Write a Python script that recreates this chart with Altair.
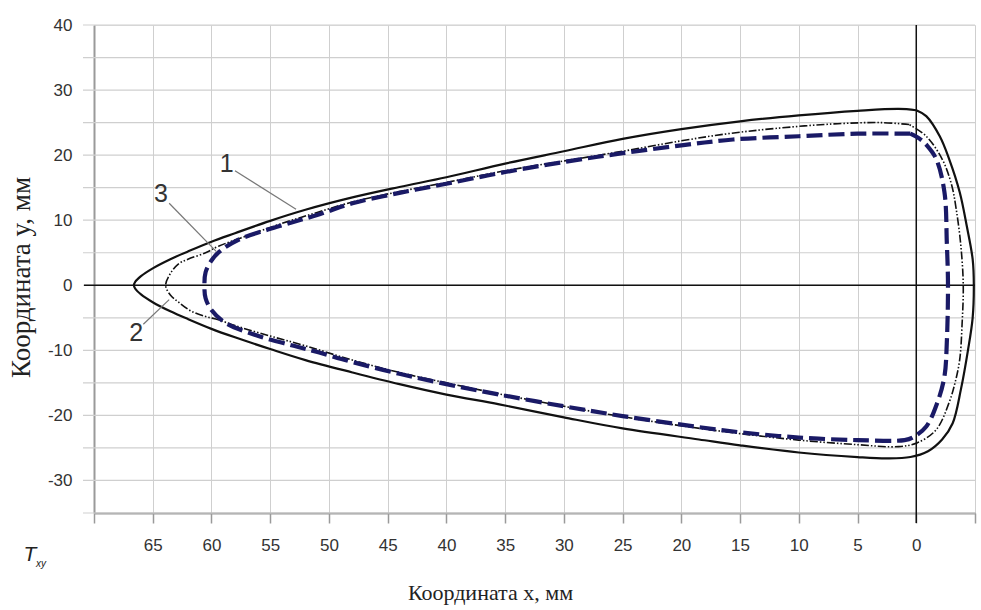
import altair as alt
import pandas as pd

# Curve 1 (solid): closed contour
c1_x = [0.0, 1.5, 5, 10, 15, 20, 25, 30, 35, 40, 44, 48, 52, 55, 58, 60, 62, 63.5, 65, 66, 66.5, 66.6,
        66.5, 66, 65, 63.5, 62, 60, 58, 55, 52, 48, 44, 40, 35.5, 30, 25, 18.5, 15, 10, 5, 2.5, 0.5, -1.0,
        -2.2, -3.1, -3.8, -4.4, -4.8, -4.9, -4.8, -4.3, -3.7, -2.8, -2.0, -0.85, 0.0]
c1_y = [26.9, 27.1, 26.8, 26.1, 25.2, 24.0, 22.5, 20.6, 18.7, 16.6, 15.1, 13.5, 11.6, 9.9, 8.0, 6.7, 5.2, 4.0, 2.6, 1.4, 0.5, 0.0,
        -0.5, -1.4, -2.6, -4.0, -5.2, -6.7, -8.0, -9.8, -11.5, -13.4, -15.2, -16.8, -18.3, -20.3, -22.0, -23.7, -24.6, -25.7, -26.4, -26.6, -26.4, -25.5,
        -23.7, -21.2, -16.0, -10.0, -5.0, 0.0, 4.0, 9.1, 14.3, 19.4, 22.9, 26.0, 26.9]

# Curve 2 (dash-dot-dot): closed contour
c2_x = [0.6, 3, 7, 12, 16, 20, 25, 30, 35, 40, 44, 48, 51, 54, 57, 59.4, 60.5, 62, 62.8, 63.5, 63.9,
        63.5, 62.8, 61.7, 60.5, 59.4, 58, 55, 52, 48, 44, 40, 35.5, 30, 25, 20, 15, 10, 5, 1.5, -0.1,
        -1.7, -2.8, -3.3, -3.7, -3.9, -4.0, -3.8, -3.4, -3.0, -2.2, -0.85, 0.6]
c2_y = [24.7, 25.0, 24.8, 24.1, 23.3, 22.2, 20.6, 19.1, 17.6, 15.8, 14.4, 12.8, 11.2, 9.5, 7.6, 6.0, 5.0, 4.0, 3.3, 1.8, 0.0,
        -1.5, -2.6, -4.0, -4.8, -5.3, -6.2, -7.8, -9.3, -11.5, -13.4, -15.0, -16.7, -18.6, -20.2, -21.6, -22.8, -23.8, -24.5, -24.8, -24.2,
        -22.2, -18.0, -15.0, -11.4, -6.0, 0.0, 6.0, 11.7, 15.5, 19.4, 22.9, 24.7]

# Curve 3 (dashed, navy): closed contour
c3_x = [0.5, 5, 10, 15.6, 20, 25, 29.8, 35, 40, 44, 48, 51, 54, 57.7, 59.3, 60, 60.5, 60.6,
        60.5, 60, 58.8, 56, 53, 50.9, 48, 44, 40, 35.5, 30, 25, 18.5, 15, 10, 5, 1, 0.3,
        -0.85, -1.8, -2.4, -2.6, -2.7, -2.6, -2.4, -1.7, -0.9, -0.3, 0.5]
c3_y = [23.3, 23.3, 22.9, 22.4, 21.5, 20.3, 19.0, 17.4, 15.6, 14.2, 12.6, 10.8, 9.2, 7.0, 5.2, 3.8, 2.0, 0.0,
        -2.0, -3.8, -5.8, -7.8, -9.3, -10.3, -11.8, -13.6, -15.2, -16.8, -18.6, -20.1, -21.8, -22.6, -23.4, -23.8, -23.8, -23.4,
        -21.7, -18.0, -14.0, -8.8, 0.0, 6.6, 14.3, 19.4, 21.5, 22.5, 23.3]

# Curve labels and leader lines
lab_text = ["1", "3", "2"]
lab_x = [58.7, 64.3, 66.4]
lab_y = [18.6, 14.0, -7.3]
lead_x1 = [58.0, 63.6, 65.8]
lead_y1 = [17.6, 12.6, -6.0]
lead_x2 = [52.8, 59.6, 63.6]
lead_y2 = [11.7, 5.2, -2.2]

x_ticks = list(range(70, -6, -5))
y_grid = list(range(-35, 41, 5))
y_labelled = [40, 30, 20, 10, 0, -10, -20, -30]

W, H = 881, 488

def df_curve(xs, ys):
    return pd.DataFrame({"x": xs, "y": ys, "o": list(range(len(xs)))})

xs = alt.Scale(domain=[70, -5], nice=False, zero=False)
ys = alt.Scale(domain=[-35, 40], nice=False, zero=False)

x_axis = alt.Axis(
    values=x_ticks,
    labelExpr="datum.value >= 0 && datum.value <= 65 ? toString(datum.value) : ''",
    grid=True, gridColor="#cfcfcf", gridWidth=1,
    domainColor="#9a9a9a", domainWidth=2,
    tickColor="#9a9a9a", tickSize=10, tickWidth=1.5,
    labelFont="Liberation Sans", labelFontSize=17, labelColor="#333333", labelPadding=14,
    labelFlush=False, labelOverlap=False,
    title="Координата x, мм", titleFont="Liberation Serif", titleFontSize=22,
    titleFontWeight="normal", titleColor="#222222", titleX=396, titleY=86,
    titleBaseline="alphabetic",
)
y_axis = alt.Axis(
    values=y_labelled,
    labelExpr="replace(datum.label, '\u2212', '-')",
    grid=False, ticks=False,
    domainColor="#9a9a9a", domainWidth=2,
    labelFont="Liberation Sans", labelFontSize=17, labelColor="#333333", labelPadding=22,
    labelFlush=False, labelOverlap=False,
    title="Координата  y, мм", titleFont="Liberation Serif", titleFontSize=27,
    titleFontWeight="normal", titleColor="#222222", titleX=-73, titleY=252,
    titleAngle=270, titleBaseline="middle",
)

# horizontal grid lines (extending left of the axis as ticks)
hgrid = alt.Chart(pd.DataFrame({"y": y_grid})).mark_rule(color="#cfcfcf", strokeWidth=1.2).encode(
    y=alt.Y("y:Q", scale=ys, axis=y_axis), x=alt.value(-11), x2=alt.value(W)
)

base1 = alt.Chart(df_curve(c1_x, c1_y)).mark_line(
    color="#111111", strokeWidth=2.2, interpolate="catmull-rom"
).encode(
    x=alt.X("x:Q", scale=xs, axis=x_axis),
    y=alt.Y("y:Q", scale=ys),
    order="o:Q",
)
line2 = alt.Chart(df_curve(c2_x, c2_y)).mark_line(
    color="#111111", strokeWidth=1.6, strokeDash=[8, 2, 1.5, 2, 1.5, 2], interpolate="catmull-rom"
).encode(x=alt.X("x:Q", scale=xs), y=alt.Y("y:Q", scale=ys), order="o:Q")
line3 = alt.Chart(df_curve(c3_x, c3_y)).mark_line(
    color="#1a1a66", strokeWidth=4.2, strokeDash=[16, 6], interpolate="catmull-rom"
).encode(x=alt.X("x:Q", scale=xs), y=alt.Y("y:Q", scale=ys), order="o:Q")

zero_h = alt.Chart(pd.DataFrame({"y": [0]})).mark_rule(color="#111111", strokeWidth=1.5).encode(
    y=alt.Y("y:Q", scale=ys), x=alt.value(-10), x2=alt.value(W)
)
zero_v = alt.Chart(pd.DataFrame({"x": [0]})).mark_rule(color="#111111", strokeWidth=1.5).encode(
    x=alt.X("x:Q", scale=xs), y=alt.value(0), y2=alt.value(H + 10)
)

leaders = alt.Chart(pd.DataFrame({"x1": lead_x1, "y1": lead_y1, "x2": lead_x2, "y2": lead_y2})).mark_rule(
    color="#777777", strokeWidth=1.2
).encode(
    x=alt.X("x1:Q", scale=xs), y=alt.Y("y1:Q", scale=ys), x2="x2:Q", y2="y2:Q"
)
labels = alt.Chart(pd.DataFrame({"t": lab_text, "x": lab_x, "y": lab_y})).mark_text(
    font="Liberation Sans", fontSize=25, color="#333333", align="center", baseline="middle"
).encode(x=alt.X("x:Q", scale=xs), y=alt.Y("y:Q", scale=ys), text="t:N")

t_main = alt.Chart(pd.DataFrame({"t": ["T"]})).mark_text(
    font="Liberation Sans", fontSize=21, fontStyle="italic", color="#222222", align="center", baseline="middle"
).encode(x=alt.value(-64), y=alt.value(530), text="t:N")
t_sub = alt.Chart(pd.DataFrame({"t": ["xy"]})).mark_text(
    font="Liberation Sans", fontSize=10, fontStyle="italic", color="#222222", align="center", baseline="middle"
).encode(x=alt.value(-53), y=alt.value(539), text="t:N")

chart = alt.layer(hgrid, base1, zero_h, zero_v, line2, line3, leaders, labels, t_main, t_sub).properties(
    width=W, height=H,
    autosize=alt.AutoSizeParams(type="none"),
    padding={"left": 94, "top": 25, "right": 6, "bottom": 97},
).configure_view(stroke=None).configure(background="white")

chart.save("out.html", embed_options={"renderer": "svg", "actions": False})
